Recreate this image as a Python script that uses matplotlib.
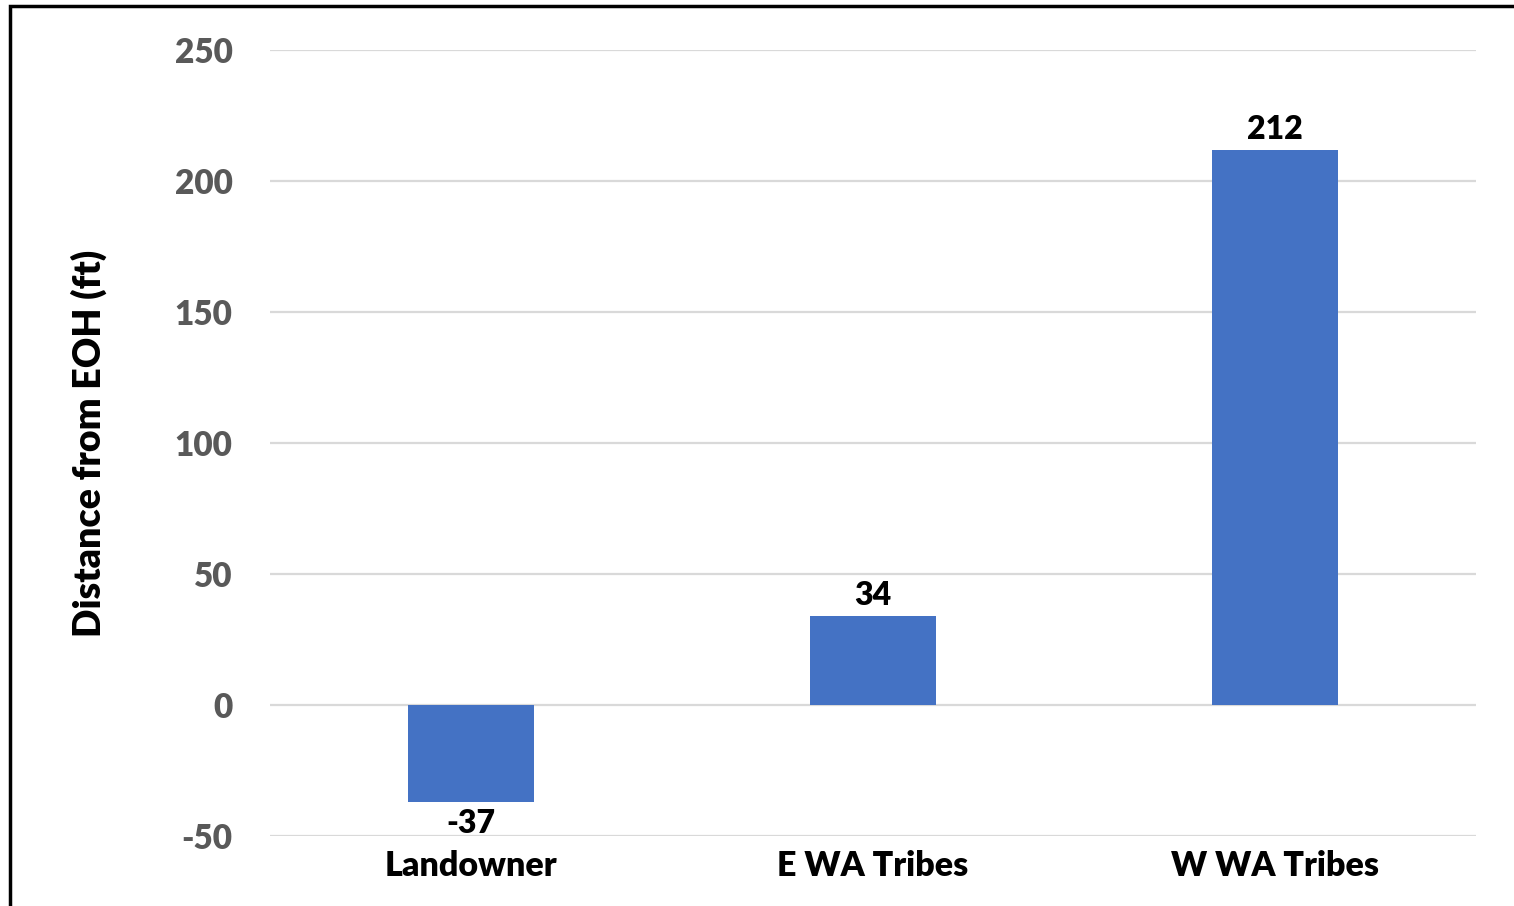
import matplotlib
matplotlib.use("Agg")
import matplotlib.pyplot as plt
from matplotlib.patches import Rectangle

categories = ["Landowner", "E WA Tribes", "W WA Tribes"]
values = [-37, 34, 212]
yticks = [-50, 0, 50, 100, 150, 200, 250]

plt.rcParams['font.family'] = ['Lato', 'DejaVu Sans']
W = 'heavy'

fig = plt.figure(figsize=(15.14, 9.06), dpi=100)
ax = fig.add_axes([270/1514, 1-836/906, (1476-270)/1514, (836-50)/906])

x = list(range(len(categories)))
bars = ax.bar(x, values, width=0.313, color="#4472C4", zorder=3)

ax.set_xlim(-0.5, 2.5)
ax.set_ylim(-50, 250)
ax.set_yticks(yticks)
ax.set_yticklabels([str(t) for t in yticks], fontsize=24, fontweight=W, color="#595959")
ax.set_xticks(x)
ax.set_xticklabels(categories, fontsize=24.5, fontweight=W, color="black")
ax.tick_params(axis='both', length=0)
ax.tick_params(axis='y', pad=27)
ax.tick_params(axis='x', pad=10)
ax.grid(axis='y', color="#D9D9D9", linewidth=1.6, zorder=0)
for s in ax.spines.values():
    s.set_visible(False)

for xi, v in zip(x, values):
    if v >= 0:
        ax.annotate(str(v), (xi, v), xytext=(0, 4), textcoords='offset points',
                    ha='center', va='bottom', fontsize=23, fontweight=W, color='black')
    else:
        ax.annotate(str(v), (xi, v), xytext=(0, -5), textcoords='offset points',
                    ha='center', va='top', fontsize=23, fontweight=W, color='black')

ax.set_ylabel("Distance from EOH (ft)", fontsize=27, fontweight=W, color='black')
ax.yaxis.set_label_coords(-0.135, 0.5)

fig.patches.append(Rectangle((10/1514, -0.05), 1.1, 1 - 6/906 + 0.05, transform=fig.transFigure,
                             fill=False, edgecolor='black', linewidth=2.5))

fig.savefig("out.png", dpi=100)
